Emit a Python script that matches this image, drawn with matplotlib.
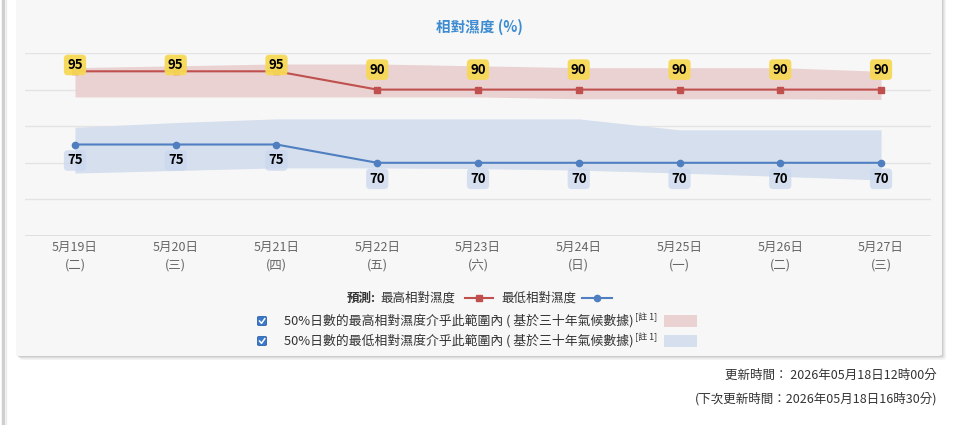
import numpy as np
import matplotlib.pyplot as plt
from matplotlib.patches import FancyBboxPatch, Rectangle
from matplotlib.lines import Line2D

plt.rcParams['font.family'] = ['Noto Sans CJK TC', 'DejaVu Sans']

#=============================================================================
#                               DONNÉES
#=============================================================================

dates = ['5月19日', '5月20日', '5月21日', '5月22日', '5月23日',
         '5月24日', '5月25日', '5月26日', '5月27日']
jours = ['(二)', '(三)', '(四)', '(五)', '(六)', '(日)', '(一)', '(二)', '(三)']

hr_max = [95, 95, 95, 90, 90, 90, 90, 90, 90]      # prévision humidité max
hr_min = [75, 75, 75, 70, 70, 70, 70, 70, 70]      # prévision humidité min

# bandes climatologiques (50% des jours)
clim_max_haut = [96, 96.5, 97, 97, 96.5, 96, 96, 96, 95]
clim_max_bas = [88, 88, 88, 88, 88, 87.5, 87.5, 87.5, 87.3]
clim_min_haut = [79.7, 81, 82, 82, 82, 82, 79, 79, 79]
clim_min_bas = [67.2, 67.9, 68.6, 68.6, 68.4, 68, 67.2, 66.3, 65.3]

titre = '相對濕度 (%)'
leg_prev = '預測:'
leg_max = '最高相對濕度'
leg_min = '最低相對濕度'
txt_bande_max = '50%日數的最高相對濕度介乎此範圍內 ( 基於三十年氣候數據)'
txt_bande_min = '50%日數的最低相對濕度介乎此範圍內 ( 基於三十年氣候數據)'
note = '[註 1]'
maj1 = '更新時間： 2026年05月18日12時00分'
maj2 = '(下次更新時間：2026年05月18日16時30分)'

#=============================================================================
#                               STYLES
#=============================================================================

W, H = 954, 425
rouge = '#c0504d'
bleu = '#4f7fc0'
bande_rouge = '#ead2d3'
bande_bleue = '#d6dfee'
fond = '#f7f7f7'
gris = '#666666'
texte = '#333333'

def fx(x):
    return x / W

def fy(y):
    return 1 - y / H

fig = plt.figure(figsize=(W / 100, H / 100), dpi=100)
fig.patch.set_facecolor('white')

# ligne verticale à gauche
fig.add_artist(Line2D([fx(3), fx(3)], [0, 1], color='#cfcfcf', lw=2.5, zorder=-5))
fig.add_artist(Line2D([fx(6.5), fx(6.5)], [0, 1], color='#ececec', lw=1, zorder=-5))

# ombre + carte
for k, a in [(4, 0.10), (2.5, 0.18), (1.2, 0.30)]:
    fig.add_artist(FancyBboxPatch((fx(16 + k), fy(356 + k)), fx(926), fy(0) - fy(370),
                                  boxstyle='round,pad=0,rounding_size=0.004',
                                  transform=fig.transFigure, facecolor='#9a9a9a',
                                  edgecolor='none', alpha=a, zorder=-4))
fig.add_artist(FancyBboxPatch((fx(16), fy(356)), fx(926), fy(0) - fy(370),
                              boxstyle='round,pad=0,rounding_size=0.004',
                              transform=fig.transFigure, facecolor=fond,
                              edgecolor='none', zorder=-3))

#=============================================================================
#                               GRAPHIQUE
#=============================================================================

x0, x1 = 24.6, 931.4
y_haut, y_bas = 53, 236
ax = fig.add_axes([fx(x0), fy(y_bas), fx(x1 - x0), fy(y_haut) - fy(y_bas)])
ax.set_facecolor('none')
ax.set_xlim(-0.5, 8.5)
ax.set_ylim(50, 100)
for s in ax.spines.values():
    s.set_visible(False)
ax.set_yticks(np.arange(50, 101, 10))
ax.yaxis.grid(True, color='#e3e3e3', lw=1)
ax.set_axisbelow(True)
ax.tick_params(left=False, labelleft=False, bottom=False, labelbottom=False)
ax.axhline(50, color='#dcdcdc', lw=1.2, zorder=0)

x = np.arange(len(dates))
ax.fill_between(x, clim_max_bas, clim_max_haut, color=bande_rouge, lw=0, zorder=1)
ax.fill_between(x, clim_min_bas, clim_min_haut, color=bande_bleue, lw=0, zorder=1)

ax.plot(x, hr_max, color=rouge, lw=1.5, marker='s', ms=4.5, zorder=3)
ax.plot(x, hr_min, color=bleu, lw=1.5, marker='o', ms=4.5, zorder=3)

# étiquettes des valeurs
px_unite = (y_bas - y_haut) / 50
for i, v in enumerate(hr_max):
    py = y_haut + (100 - v) * px_unite
    dec = min(20, py - 65)
    ax.annotate(str(v), xy=(i, v), xytext=(0, dec * 0.72), textcoords='offset points',
                ha='center', va='center', fontsize=9.5, fontweight='bold', color='black',
                zorder=5,
                bbox=dict(boxstyle='round,pad=0.25,rounding_size=0.3', fc='#f6d955',
                          ec='none', alpha=0.95))
for i, v in enumerate(hr_min):
    ax.annotate(str(v), xy=(i, v), xytext=(0, -16 * 0.72), textcoords='offset points',
                ha='center', va='center', fontsize=9.5, fontweight='bold', color='black',
                zorder=5,
                bbox=dict(boxstyle='round,pad=0.25,rounding_size=0.3', fc='#cbd8ee',
                          ec='none', alpha=0.75))

# étiquettes de l'axe x
for i, (d, j) in enumerate(zip(dates, jours)):
    ax.annotate(d, xy=(i, 0), xycoords=('data', 'axes fraction'), xytext=(0, -11 * 0.72),
                textcoords='offset points', ha='center', va='center', fontsize=9, color=gris)
    ax.annotate(j, xy=(i, 0), xycoords=('data', 'axes fraction'), xytext=(0, -29 * 0.72),
                textcoords='offset points', ha='center', va='center', fontsize=9, color=gris)

# titre
fig.text(fx(479), fy(27), titre, ha='center', va='center', fontsize=10.5,
         fontweight='bold', color='#3d8bd0')

#=============================================================================
#                               LÉGENDE
#=============================================================================

yl = fy(298)
fig.text(fx(347), yl, leg_prev, ha='left', va='center', fontsize=9, fontweight='bold', color=texte)
fig.text(fx(380), yl, leg_max, ha='left', va='center', fontsize=9, color=texte)
fig.add_artist(Line2D([fx(465), fx(493)], [yl, yl], color=rouge, lw=1.5))
fig.add_artist(Line2D([fx(479)], [yl], color=rouge, marker='s', ms=4.5))
fig.text(fx(501), yl, leg_min, ha='left', va='center', fontsize=9, color=texte)
fig.add_artist(Line2D([fx(582), fx(612)], [yl, yl], color=bleu, lw=1.5))
fig.add_artist(Line2D([fx(597)], [yl], color=bleu, marker='o', ms=4.5))

for yy, txt, coul in [(321, txt_bande_max, bande_rouge), (341, txt_bande_min, bande_bleue)]:
    # case à cocher
    fig.add_artist(FancyBboxPatch((fx(257.5), fy(yy + 4.5)), fx(9), fy(0) - fy(9),
                                  boxstyle='round,pad=0,rounding_size=0.002',
                                  transform=fig.transFigure, facecolor='#3a78c9',
                                  edgecolor='#2f62a8', lw=0.6))
    fig.add_artist(Line2D([fx(259.5), fx(261.5), fx(264.8)],
                          [fy(yy), fy(yy + 2.3), fy(yy - 2.3)], color='white', lw=1.1))
    t = fig.text(fx(284), fy(yy), txt, ha='left', va='center', fontsize=9.25, color=texte)
    ax.annotate(note, xy=(1, 0.8), xycoords=t, xytext=(1, 0), textcoords='offset points',
                ha='left', va='center', fontsize=6.5, color=texte, annotation_clip=False)
    fig.add_artist(Rectangle((fx(664), fy(yy + 6)), fx(33), fy(0) - fy(12),
                             transform=fig.transFigure, facecolor=coul, edgecolor='none'))

# heures de mise à jour
fig.text(fx(937), fy(375), maj1, ha='right', va='center', fontsize=9, color=texte)
fig.text(fx(937), fy(399), maj2, ha='right', va='center', fontsize=9, color=texte)

plt.savefig('out.png', dpi=100, facecolor=fig.get_facecolor())
